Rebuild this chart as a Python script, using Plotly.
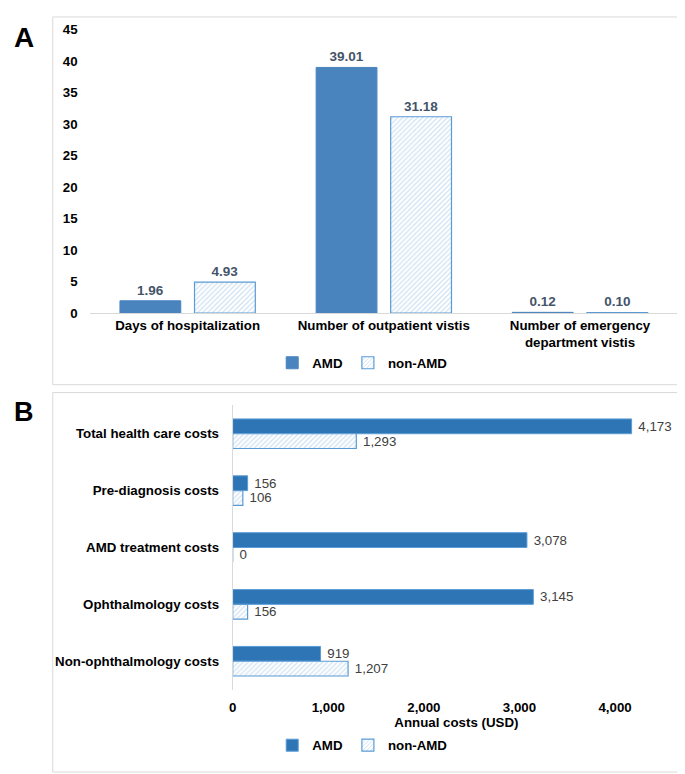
import plotly.graph_objects as go

# Panel A: utilisation
util_cats = ['Days of hospitalization', 'Number of outpatient vistis',
             'Number of emergency<br>department vistis']
util_amd = [1.96, 39.01, 0.12]
util_non = [4.93, 31.18, 0.10]

# Panel B: annual costs
cost_cats = ['Total health care costs', 'Pre-diagnosis costs', 'AMD treatment costs',
             'Ophthalmology costs', 'Non-ophthalmology costs']
cost_amd = [4173, 156, 3078, 3145, 919]
cost_non = [1293, 106, 0, 156, 1207]

W, H = 685, 774
FONT = 'Liberation Sans, Arial, sans-serif'
AMD_A = '#4a84bf'
AMD_B = '#2e75b6'
HATCH = dict(shape='/', fgcolor='#9dc3e6', bgcolor='white', size=3.5, solidity=0.35)

def px_x(x):
    return x / W

def px_y(y):
    return 1 - y / H

fig = go.Figure()

# A
fig.add_trace(go.Bar(
    x=util_cats, y=util_amd, name='AMD', xaxis='x', yaxis='y',
    marker=dict(color=AMD_A, line=dict(color=AMD_A, width=1)),
    width=0.31, offset=-0.345,
    text=[f'{v:.2f}' for v in util_amd], textposition='outside',
    textfont=dict(color='#44546a', size=13.5, family=FONT, weight='bold'),
    cliponaxis=False, legend='legend'))
fig.add_trace(go.Bar(
    x=util_cats, y=util_non, name='non-AMD', xaxis='x', yaxis='y',
    marker=dict(color='white', pattern=HATCH, line=dict(color='#5b9bd5', width=1.2)),
    width=0.31, offset=0.035,
    text=[f'{v:.2f}' for v in util_non], textposition='outside',
    textfont=dict(color='#44546a', size=13.5, family=FONT, weight='bold'),
    cliponaxis=False, legend='legend'))

# B
fig.add_trace(go.Bar(
    y=cost_cats, x=cost_amd, name='AMD', orientation='h', xaxis='x2', yaxis='y2',
    marker=dict(color=AMD_B, line=dict(color='#5b9bd5', width=1)),
    width=0.26, offset=-0.26,
    text=[f' {v:,}' for v in cost_amd], textposition='outside',
    textfont=dict(color='#404040', size=13.5, family=FONT),
    cliponaxis=False, legend='legend2'))
fig.add_trace(go.Bar(
    y=cost_cats, x=cost_non, name='non-AMD', orientation='h', xaxis='x2', yaxis='y2',
    marker=dict(color='white', pattern=HATCH, line=dict(color='#5b9bd5', width=1.2)),
    width=0.26, offset=0,
    text=[f' {v:,}' for v in cost_non], textposition='outside',
    textfont=dict(color='#404040', size=13.5, family=FONT),
    cliponaxis=False, legend='legend2'))

tickfont = dict(family=FONT, size=13.3, color='black', weight='bold')
legfont = dict(family=FONT, size=13.3, color='black', weight='bold')

fig.update_layout(
    width=W, height=H, margin=dict(l=0, r=0, t=0, b=0),
    paper_bgcolor='white', plot_bgcolor='white',
    font=dict(family=FONT, size=13, color='black'),
    barmode='group',
    xaxis=dict(domain=[px_x(78), px_x(670)], anchor='y', tickfont=tickfont,
               showline=True, linecolor='#d9d9d9', linewidth=1, ticks='',
               showgrid=False, range=[-0.5, 2.5]),
    yaxis=dict(domain=[px_y(304), px_y(15)], anchor='x', range=[0, 45], dtick=5,
               tickfont=tickfont, showgrid=False, zeroline=False, showline=False,
               ticks='', ticklabelstandoff=11),
    xaxis2=dict(domain=[px_x(222), px_x(672)], anchor='y2', range=[0, 4680],
                dtick=1000, tickformat=',', tickfont=tickfont, showgrid=False,
                zeroline=False, showline=False, ticks='', ticklabelstandoff=8,
                title=dict(text='Annual costs (USD)', standoff=2,
                           font=dict(family=FONT, size=13.3, color='black', weight='bold'))),
    yaxis2=dict(domain=[px_y(688), px_y(398)], anchor='x2', autorange='reversed',
                tickfont=tickfont, showline=True, linecolor='#d9d9d9', linewidth=1,
                ticks='', ticklabelstandoff=10, showgrid=False),
    legend=dict(orientation='h', x=0.515, xanchor='center', y=px_y(355), yanchor='middle',
                font=legfont, itemwidth=30, tracegroupgap=0),
    legend2=dict(orientation='h', x=0.515, xanchor='center', y=px_y(745), yanchor='middle',
                 font=legfont, itemwidth=30, tracegroupgap=0),
    shapes=[
        dict(type='rect', xref='paper', yref='paper', x0=px_x(41), x1=px_x(677),
             y0=px_y(377), y1=px_y(2), line=dict(color='#d9d9d9', width=1)),
        dict(type='rect', xref='paper', yref='paper', x0=px_x(41), x1=px_x(677),
             y0=px_y(772), y1=px_y(385), line=dict(color='#d9d9d9', width=1)),
    ],
    annotations=[
        dict(text='A', xref='paper', yref='paper', x=px_x(12), y=px_y(23),
             xanchor='center', yanchor='middle', showarrow=False,
             font=dict(family=FONT, size=28, color='black', weight='bold')),
        dict(text='B', xref='paper', yref='paper', x=px_x(12), y=px_y(405),
             xanchor='center', yanchor='middle', showarrow=False,
             font=dict(family=FONT, size=27, color='black', weight='bold')),
    ],
)

fig.write_html('out.html')
